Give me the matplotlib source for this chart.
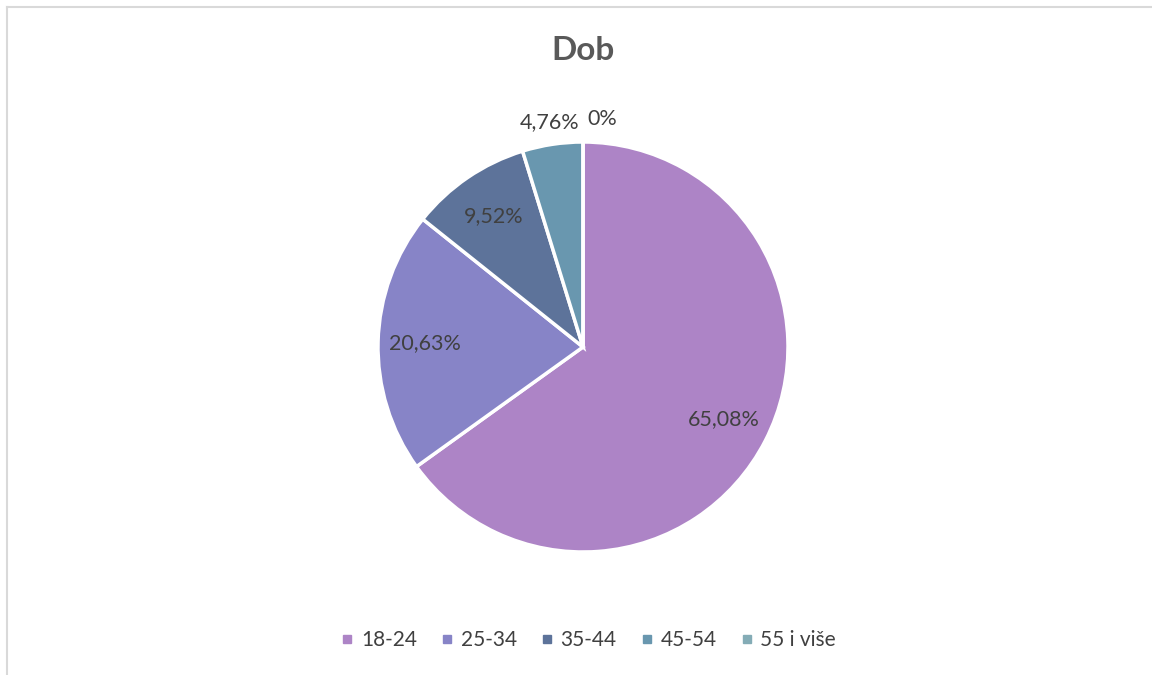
import numpy as np
import matplotlib.pyplot as plt
from matplotlib.lines import Line2D

# data
categories = ["18-24", "25-34", "35-44", "45-54", "55 i više"]
values = [65.08, 20.63, 9.52, 4.76, 0.0]
value_labels = ["65,08%", "20,63%", "9,52%", "4,76%", "0%"]
colors = ["#AD84C6", "#8784C7", "#5D739A", "#6997AF", "#84ACB6"]

plt.rcParams['font.family'] = ['Lato', 'DejaVu Sans']

fig = plt.figure(figsize=(11.52, 6.75), dpi=100)

# light frame (top and left only visible in the original)
fig.add_artist(plt.Line2D([7/1152, 7/1152], [0, 1 - 7/675], color="#D9D9D9", lw=1.5))
fig.add_artist(plt.Line2D([7/1152, 1], [1 - 7/675, 1 - 7/675], color="#D9D9D9", lw=1.5))

cx, cy, r = 583, 347, 205
ax = fig.add_axes([(cx - r) / 1152, (675 - cy - r) / 675, 2 * r / 1152, 2 * r / 675])
wedges, _ = ax.pie(values, colors=colors, startangle=90, counterclock=False,
                   wedgeprops=dict(edgecolor="white", linewidth=2.5))
ax.set_xlim(-1, 1)
ax.set_ylim(-1, 1)

fs = 15.5
for w, v, lab in zip(wedges, values, value_labels):
    ang = np.deg2rad((w.theta1 + w.theta2) / 2)
    if v >= 5:
        d = 0.77
        ax.text(d * np.cos(ang), d * np.sin(ang), lab, ha="center", va="center",
                fontsize=fs, color="#404040")
    elif v > 0:
        d = 1.11
        ax.text(d * np.cos(ang), d * np.sin(ang), lab, ha="center", va="center",
                fontsize=fs, color="#404040")
    else:
        ax.text(0.02, 1.11, lab, ha="left", va="center", fontsize=fs, color="#404040")

fig.text(cx / 1152, 1 - 50 / 675, "Dob", ha="center", va="center",
         fontsize=24, fontweight="bold", color="#595959")

handles = [Line2D([], [], marker="s", linestyle="", markersize=6,
                  markerfacecolor=c, markeredgecolor=c) for c in colors]
fig.legend(handles, categories, loc="center", bbox_to_anchor=(588 / 1152, 1 - 640 / 675),
           ncol=5, frameon=False, fontsize=15, labelcolor="#404040",
           handletextpad=0.3, columnspacing=1.1, handlelength=0.7)

fig.savefig("out.png", dpi=100)
